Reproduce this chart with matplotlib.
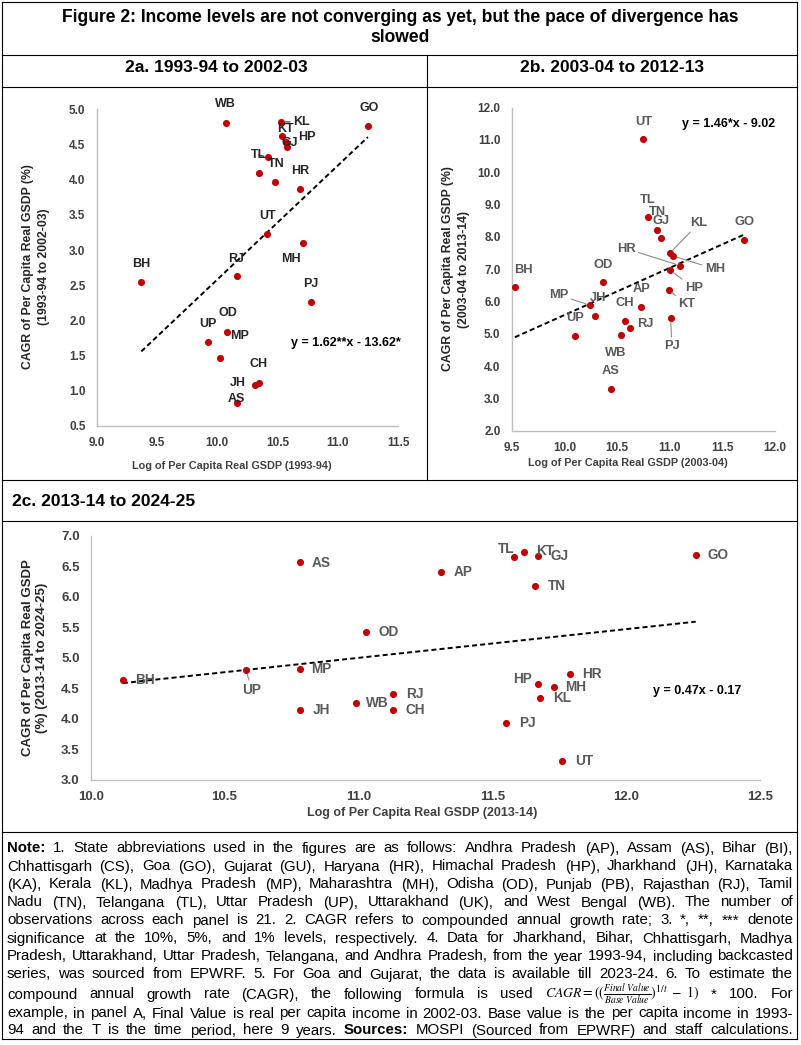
import numpy as np
import matplotlib
matplotlib.use('Agg')
import matplotlib.pyplot as plt
from matplotlib import font_manager
from matplotlib.lines import Line2D

# ---- panel 2a: 1993-94 to 2002-03
states_a = ['WB', 'KL', 'KT', 'HP', 'GJ', 'GO', 'TL', 'AP', 'TN', 'HR', 'UT',
            'MH', 'RJ', 'BH', 'PJ', 'OD', 'UP', 'MP', 'CH', 'JH', 'AS']
x_a = [10.07, 10.53, 10.54, 10.57, 10.58, 11.25, 10.42, 10.35, 10.48, 10.69, 10.41,
       10.71, 10.16, 9.37, 10.78, 10.08, 9.92, 10.02, 10.35, 10.31, 10.16]
y_a = [4.81, 4.82, 4.62, 4.54, 4.46, 4.76, 4.32, 4.10, 3.97, 3.87, 3.23,
       3.10, 2.63, 2.54, 2.26, 1.84, 1.69, 1.47, 1.11, 1.08, 0.83]
fit_a = [1.62, -13.62]
eq_a = 'y = 1.62**x - 13.62*'

# ---- panel 2b: 2003-04 to 2012-13
states_b = ['UT', 'TL', 'TN', 'GJ', 'KL', 'MH', 'HR', 'HP', 'GO', 'BH', 'OD',
            'KT', 'MP', 'JH', 'AP', 'CH', 'RJ', 'WB', 'PJ', 'UP', 'AS']
x_b = [10.75, 10.79, 10.88, 10.92, 11.00, 11.03, 11.10, 11.00, 11.71, 9.53, 10.37,
       10.99, 10.24, 10.29, 10.73, 10.58, 10.62, 10.54, 11.01, 10.10, 10.44]
y_b = [11.03, 8.63, 8.21, 7.98, 7.49, 7.41, 7.11, 6.98, 7.90, 6.46, 6.60,
       6.35, 5.89, 5.55, 5.82, 5.41, 5.19, 4.96, 5.50, 4.93, 3.30]
fit_b = [1.46, -9.02]
eq_b = 'y = 1.46*x - 9.02'

# ---- panel 2c: 2013-14 to 2024-25
states_c = ['AS', 'OD', 'BH', 'UP', 'MP', 'JH', 'WB', 'RJ', 'CH', 'AP', 'TL',
            'KT', 'GJ', 'TN', 'GO', 'HR', 'HP', 'MH', 'KL', 'PJ', 'UT']
x_c = [10.78, 11.03, 10.12, 10.58, 10.78, 10.78, 10.99, 11.13, 11.13, 11.31, 11.58,
       11.62, 11.67, 11.66, 12.26, 11.79, 11.67, 11.73, 11.68, 11.55, 11.76]
y_c = [6.57, 5.42, 4.64, 4.80, 4.81, 4.14, 4.26, 4.41, 4.15, 6.41, 6.65,
       6.73, 6.67, 6.17, 6.68, 4.74, 4.57, 4.52, 4.34, 3.93, 3.31]
fit_c = [0.47, -0.17]
eq_c = 'y = 0.47x - 0.17'

title_lines = ['Figure 2: Income levels are not converging as yet, but the pace of divergence has',
               'slowed']
panel_titles = ['2a. 1993-94 to 2002-03', '2b. 2003-04 to 2012-13', '2c. 2013-14 to 2024-25']

FORMULA = r'$\mathit{CAGR} = ((\frac{\mathit{Final\ Value}}{\mathit{Base\ Value}})^{1/t}\ -\ 1)$'
note_lines = [
    'Note: 1. State abbreviations used in the figures are as follows: Andhra Pradesh (AP), Assam (AS), Bihar (BI),',
    'Chhattisgarh (CS), Goa (GO), Gujarat (GU), Haryana (HR), Himachal Pradesh (HP), Jharkhand (JH), Karnataka',
    '(KA), Kerala (KL), Madhya Pradesh (MP), Maharashtra (MH), Odisha (OD), Punjab (PB), Rajasthan (RJ), Tamil',
    'Nadu (TN), Telangana (TL), Uttar Pradesh (UP), Uttarakhand (UK), and West Bengal (WB). The number of',
    'observations across each panel is 21. 2. CAGR refers to compounded annual growth rate; 3. *, **, *** denote',
    'significance at the 10%, 5%, and 1% levels, respectively. 4. Data for Jharkhand, Bihar, Chhattisgarh, Madhya',
    'Pradesh, Uttarakhand, Uttar Pradesh, Telangana, and Andhra Pradesh, from the year 1993-94, including backcasted',
    'series, was sourced from EPWRF. 5. For Goa and Gujarat, the data is available till 2023-24. 6. To estimate the',
    'compound annual growth rate (CAGR), the following formula is used FORMULA * 100. For',
    'example, in panel A, Final Value is real per capita income in 2002-03. Base value is the per capita income in 1993-',
    '94 and the T is the time period, here 9 years. Sources: MOSPI (Sourced from EPWRF) and staff calculations.',
]

# label placement (offset in pixels from the point), None = no label
off_a = {'WB': (0, 19), 'KL': (20, 0), 'KT': (3, 7), 'HP': (21, 5), 'GJ': (3, 4),
         'GO': (1, 18), 'TL': (-9, 2), 'AP': None, 'TN': (1, 18), 'HR': (0, 18),
         'UT': (1, 18), 'MH': (-12, -16), 'RJ': (0, 17), 'BH': (0, 18), 'PJ': (0, 18),
         'OD': (1, 19), 'UP': (0, 18), 'MP': (20, 22), 'CH': (-1, 19), 'JH': (-17, 2),
         'AS': (0, 4)}
lead_a = ['TL', 'KL']
off_b = {'UT': (0, 17), 'TL': (0, 17), 'TN': (0, 18), 'GJ': (0, 17), 'KL': (29, 30),
         'MH': (42, -13), 'HR': (-54, 17), 'HP': (24, -18), 'GO': (0, 18), 'BH': (9, 17),
         'OD': (0, 17), 'KT': (18, -14), 'MP': (-31, 10), 'JH': (3, 18), 'AP': (0, 18),
         'CH': (-1, 18), 'RJ': (16, 4), 'WB': (-6, -18), 'PJ': (1, -28), 'UP': (0, 18),
         'AS': (0, 18)}
lead_b = ['KL', 'MH', 'HR', 'HP', 'KT', 'MP', 'PJ']
off_c = {'UP': (6, -20), 'TL': (-8, 8), 'HP': (-15, 5), 'AS': (22, -1), 'KT': (21, 1)}
lead_c = ['UP']

W, H = 801, 1045
installed = {f.name for f in font_manager.fontManager.ttflist}
SANS = 'Liberation Sans' if 'Liberation Sans' in installed else 'DejaVu Sans'
NARROW = 'Liberation Sans Narrow' if 'Liberation Sans Narrow' in installed else SANS
plt.rcParams['font.family'] = [SANS, 'DejaVu Sans']
plt.rcParams['mathtext.fontset'] = 'stix'

fig = plt.figure(figsize=(W / 100, H / 100), dpi=100)
renderer = fig.canvas.get_renderer()


def ftext(x, y, s, **kw):
    # x, y in image pixels, origin top-left
    return fig.text(x / W, 1 - y / H, s, **kw)


def text_width(s, **kw):
    t = fig.text(0, 0, s, **kw)
    w = t.get_window_extent(renderer).width
    t.remove()
    return w


def hline(y, x0=2, x1=797):
    fig.add_artist(Line2D([x0 / W, x1 / W], [1 - y / H] * 2, color='black', lw=0.8))


def vline(x, y0, y1):
    fig.add_artist(Line2D([x / W] * 2, [1 - y0 / H, 1 - y1 / H], color='black', lw=0.8))


# frame
for yy in [2, 55, 87, 480, 521, 832, 1039]:
    hline(yy)
vline(2, 2, 1039)
vline(797, 2, 1039)
vline(427, 55, 480)

# titles
tsize = 12 * 676 / text_width(title_lines[0], fontsize=12, family=NARROW, weight='bold')
ftext(400, 17, title_lines[0], fontsize=tsize, family=NARROW, weight='bold', ha='center', va='center')
ftext(400, 38, title_lines[1], fontsize=tsize, family=NARROW, weight='bold', ha='center', va='center')
ftext(216, 68, panel_titles[0], fontsize=12.5, weight='bold', ha='center', va='center')
ftext(612, 68, panel_titles[1], fontsize=12.5, weight='bold', ha='center', va='center')
ftext(12, 501, panel_titles[2], fontsize=12.5, weight='bold', ha='left', va='center')


def panel(rect, xs, ys, names, fit, offs, leads, xlim, ylim, xstep, ystep, tick_fs, lab_fs, lab_col,
          default_off=(0, 18)):
    l, t, r, b = rect
    ax = fig.add_axes([l / W, 1 - b / H, (r - l) / W, (b - t) / H])
    ax.patch.set_alpha(0)
    ax.set_xlim(xlim)
    ax.set_ylim(ylim)
    ax.set_xticks(np.arange(xlim[0], xlim[1] + 1e-9, xstep))
    ax.set_yticks(np.arange(ylim[0], ylim[1] + 1e-9, ystep))
    ax.xaxis.set_major_formatter('{x:.1f}')
    ax.yaxis.set_major_formatter('{x:.1f}')
    for side in ['top', 'right']:
        ax.spines[side].set_visible(False)
    for side in ['left', 'bottom']:
        ax.spines[side].set_color('#BFBFBF')
        ax.spines[side].set_linewidth(1.0)
    ax.tick_params(length=0, labelsize=tick_fs, labelcolor='#404040', pad=8)
    for lab in ax.get_xticklabels() + ax.get_yticklabels():
        lab.set_fontweight('bold')

    # linear trend line as printed on the chart, over the range of the data
    xl = np.array([min(xs), max(xs)])
    ax.plot(xl, fit[0] * xl + fit[1], color='black', lw=1.4, ls=(0, (2.6, 1.6)), zorder=2)
    ax.scatter(xs, ys, s=26, color='#C00000', linewidths=0, zorder=3, clip_on=False)

    for name, x, y in zip(names, xs, ys):
        off = offs.get(name, default_off)
        if off is None:
            continue
        arrow = None
        if name in leads:
            arrow = dict(arrowstyle='-', color='#8C8C8C' if lab_col != '#262626' else '#262626',
                         lw=0.8, shrinkA=0, shrinkB=3)
        ax.annotate(name, (x, y), xytext=off, textcoords='offset pixels', ha='center', va='center',
                    fontsize=lab_fs, fontweight='bold', color=lab_col, annotation_clip=False,
                    arrowprops=arrow, zorder=4)
    return ax


panel((96.7, 109.3, 398, 426), x_a, y_a, states_a, fit_a, off_a, lead_a, (9.0, 11.5), (0.5, 5.0),
      0.5, 0.5, 8.5, 9, '#262626')
panel((511.7, 107.7, 775, 430.7), x_b, y_b, states_b, fit_b, off_b, lead_b, (9.5, 12.0), (2.0, 12.0),
      0.5, 1.0, 8.5, 9.3, '#595959')
panel((90.7, 535.7, 760, 780), x_c, y_c, states_c, fit_c, off_c, lead_c, (10.0, 12.5), (3.0, 7.0),
      0.5, 0.5, 9.5, 9.8, '#595959', default_off=(22, 0))

# equations
ftext(346, 343, eq_a, fontsize=9, weight='bold', ha='center', va='center')
ftext(729, 124, eq_b, fontsize=9, weight='bold', ha='center', va='center')
ftext(697, 691, eq_c, fontsize=9, weight='bold', ha='center', va='center')

# axis titles
ftext(232, 466, 'Log of Per Capita Real GSDP (1993-94)', fontsize=7.8, weight='bold',
      color='#404040', ha='center', va='center')
ftext(628, 463, 'Log of Per Capita Real GSDP (2003-04)', fontsize=7.8, weight='bold',
      color='#404040', ha='center', va='center')
ftext(422, 813, 'Log of Per Capita Real GSDP (2013-14)', fontsize=9, weight='bold',
      color='#404040', ha='center', va='center')
ftext(36, 267, 'CAGR of Per Capita Real GSDP (%)\n(1993-94 to 2002-03)', fontsize=8.8, weight='bold',
      color='#262626', rotation=90, ha='center', va='center', multialignment='center', linespacing=1.4)
ftext(456, 269, 'CAGR of Per Capita Real GSDP (%)\n(2003-04 to 2013-14)', fontsize=8.8, weight='bold',
      color='#262626', rotation=90, ha='center', va='center', multialignment='center', linespacing=1.4)
ftext(35, 658, 'CAGR of Per Capita Real GSDP\n(%) (2013-14 to 2024-25)', fontsize=9.5, weight='bold',
      color='#262626', rotation=90, ha='center', va='center', multialignment='center', linespacing=1.3)

# note, justified line by line
X0, X1 = 7, 793
base_size = 10
widest = max(text_width(s.replace('FORMULA', FORMULA), fontsize=base_size, family=NARROW)
             for s in note_lines)
nsize = base_size * (X1 - X0) * 0.985 / widest
centers = [848, 866, 884, 902, 920, 938, 956, 974, 994, 1013, 1030]
for line, yc in zip(note_lines, centers):
    words = line.split()
    texts = []
    for wd in words:
        is_f = wd == 'FORMULA'
        bold = wd in ('Note:', 'Sources:')
        texts.append(ftext(X0, yc + 4.5, FORMULA if is_f else wd,
                           fontsize=nsize * (0.92 if is_f else 1), family=NARROW,
                           weight='bold' if bold else 'normal', ha='left', va='baseline'))
    widths = [t.get_window_extent(renderer).width for t in texts]
    gap = (X1 - X0 - sum(widths)) / (len(words) - 1)
    x = X0
    for t, w in zip(texts, widths):
        t.set_x(x / W)
        x += w + gap

fig.savefig('out.png', dpi=100)
